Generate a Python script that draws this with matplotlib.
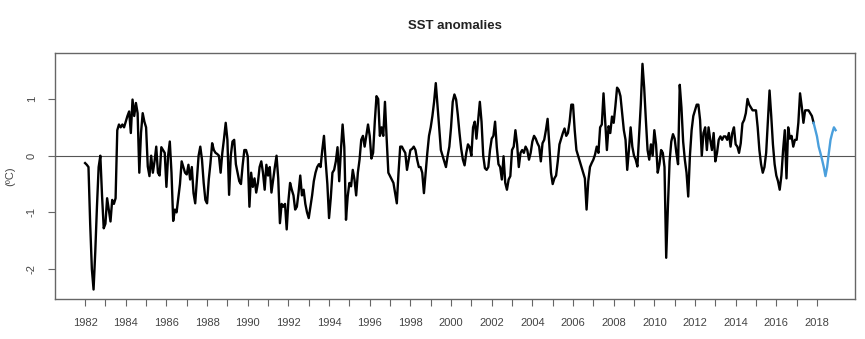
import numpy as np
import matplotlib
matplotlib.use('Agg')
import matplotlib.pyplot as plt

plt.rcParams['font.family'] = ['Liberation Sans', 'DejaVu Sans']

# monthly SST anomalies (ºC), Jan 1982 onwards, one row per year
START_YEAR = 1982
sst_obs = [
    -0.13, -0.16, -0.20, -1.20, -2.00, -2.36, -1.70, -0.90, -0.20, 0.00, -0.70, -1.28,  # 1982
    -1.20, -0.75, -0.95, -1.16, -0.78, -0.85, -0.75, 0.45, 0.55, 0.50, 0.55, 0.50,      # 1983
    0.60, 0.70, 0.78, 0.40, 0.99, 0.70, 0.93, 0.75, -0.30, 0.40, 0.75, 0.60,            # 1984
    0.50, -0.19, -0.36, 0.00, -0.30, -0.10, 0.16, -0.30, -0.35, 0.15, 0.10, 0.05,       # 1985
    -0.55, 0.00, 0.25, -0.30, -1.15, -0.95, -1.00, -0.75, -0.50, -0.10, -0.20, -0.30,   # 1986
    -0.33, -0.16, -0.42, -0.20, -0.66, -0.84, -0.42, 0.00, 0.16, -0.07, -0.48, -0.78,   # 1987
    -0.84, -0.42, -0.13, 0.22, 0.10, 0.05, 0.03, 0.00, -0.30, 0.05, 0.30, 0.58,         # 1988
    0.28, -0.69, 0.00, 0.25, 0.28, -0.15, -0.30, -0.45, -0.50, -0.17, 0.10, 0.10,       # 1989
    -0.01, -0.90, -0.30, -0.55, -0.40, -0.65, -0.48, -0.20, -0.10, -0.30, -0.60, -0.16, # 1990
    -0.35, -0.20, -0.65, -0.42, -0.20, 0.00, -0.40, -1.19, -0.85, -0.90, -0.85, -1.30,  # 1991
    -0.80, -0.48, -0.60, -0.70, -0.95, -0.90, -0.65, -0.35, -0.70, -0.60, -0.85, -1.00, # 1992
    -1.10, -0.90, -0.70, -0.45, -0.30, -0.20, -0.15, -0.20, 0.10, 0.35, -0.10, -0.50,   # 1993
    -1.10, -0.75, -0.30, -0.25, -0.10, 0.15, -0.45, 0.10, 0.55, 0.15, -1.13, -0.72,     # 1994
    -0.48, -0.54, -0.25, -0.42, -0.70, -0.30, -0.07, 0.28, 0.35, 0.16, 0.35, 0.55,      # 1995
    0.35, -0.05, 0.05, 0.60, 1.05, 1.00, 0.35, 0.50, 0.35, 0.95, 0.30, -0.30,           # 1996
    -0.36, -0.42, -0.48, -0.66, -0.84, -0.30, 0.16, 0.16, 0.10, 0.05, -0.25, -0.07,     # 1997
    0.10, 0.12, 0.16, 0.10, -0.07, -0.20, -0.20, -0.30, -0.66, -0.30, 0.05, 0.35,       # 1998
    0.50, 0.70, 0.95, 1.28, 0.90, 0.50, 0.10, 0.00, -0.10, -0.20, 0.00, 0.16,           # 1999
    0.50, 0.95, 1.08, 0.99, 0.72, 0.40, 0.12, -0.07, -0.17, 0.05, 0.20, 0.15,           # 2000
    0.00, 0.50, 0.60, 0.30, 0.62, 0.95, 0.60, 0.00, -0.22, -0.25, -0.20, 0.10,          # 2001
    0.30, 0.35, 0.60, 0.15, -0.15, -0.20, -0.42, -0.01, -0.48, -0.60, -0.42, -0.36,     # 2002
    0.10, 0.16, 0.45, 0.20, -0.20, 0.05, 0.10, 0.05, 0.16, 0.10, -0.07, 0.05,           # 2003
    0.25, 0.35, 0.30, 0.22, 0.16, -0.10, 0.22, 0.28, 0.45, 0.65, 0.20, -0.30,           # 2004
    -0.50, -0.40, -0.35, -0.10, 0.20, 0.30, 0.40, 0.48, 0.35, 0.40, 0.60, 0.90,         # 2005
    0.90, 0.45, 0.10, 0.00, -0.10, -0.20, -0.30, -0.40, -0.95, -0.45, -0.20, -0.13,     # 2006
    -0.07, 0.02, 0.16, 0.05, 0.50, 0.55, 1.10, 0.60, 0.10, 0.52, 0.40, 0.69,            # 2007
    0.58, 0.87, 1.20, 1.16, 1.05, 0.75, 0.45, 0.28, -0.25, 0.10, 0.50, 0.16,            # 2008
    0.00, -0.07, -0.19, 0.35, 0.90, 1.62, 1.20, 0.63, 0.10, -0.07, 0.20, 0.00,          # 2009
    0.45, 0.20, -0.30, -0.15, 0.10, 0.05, -0.20, -1.80, -0.90, -0.10, 0.25, 0.38,       # 2010
    0.30, 0.05, -0.15, 1.25, 0.85, 0.25, -0.07, -0.30, -0.72, 0.00, 0.45, 0.70,         # 2011
    0.80, 0.90, 0.90, 0.63, 0.00, 0.40, 0.50, 0.10, 0.50, 0.28, 0.10, 0.40,             # 2012
    -0.10, 0.05, 0.28, 0.34, 0.28, 0.34, 0.34, 0.28, 0.40, 0.16, 0.40, 0.50,            # 2013
    0.20, 0.16, 0.05, 0.22, 0.57, 0.63, 0.75, 1.00, 0.90, 0.85, 0.80, 0.80,             # 2014
    0.80, 0.50, 0.10, -0.15, -0.30, -0.20, 0.05, 0.60, 1.15, 0.70, 0.20, -0.15,         # 2015
    -0.35, -0.45, -0.60, -0.35, 0.10, 0.45, -0.40, 0.50, 0.30, 0.35, 0.16, 0.28,        # 2016
    0.28, 0.58, 1.10, 0.87, 0.58, 0.80, 0.80, 0.80, 0.75, 0.70, 0.58,                   # 2017 Jan-Nov
]
# latest period (Nov 2017 - Dec 2018), drawn in blue
sst_recent = [
    0.58, 0.46,                                                                         # 2017 Nov-Dec
    0.34, 0.16, 0.05, -0.07, -0.20, -0.36, -0.20, 0.05, 0.28, 0.40, 0.50, 0.45,         # 2018
]
year_ticks = list(range(1982, 2019))
year_labels = [str(y) if y % 2 == 0 else '' for y in year_ticks]
y_ticks = [-2, -1, 0, 1]

t_obs = START_YEAR + np.arange(len(sst_obs)) / 12.0
t_recent = t_obs[-1] + np.arange(len(sst_recent)) / 12.0

fig = plt.figure(figsize=(8.65, 3.39), dpi=100)
ax = fig.add_axes([55 / 865, 40 / 339, 800 / 865, 246 / 339])

ax.axhline(0, color='#555555', lw=0.8, zorder=1)
ax.plot(t_obs, sst_obs, color='black', lw=1.7, zorder=3)
ax.plot(t_recent, sst_recent, color='#4a9fdc', lw=1.7, zorder=3)

ax.set_xlim(1980.52, 2019.87)
ax.set_ylim(-2.527, 1.811)

ax.set_xticks(year_ticks)
ax.set_xticklabels(year_labels)
ax.set_yticks(y_ticks)
ax.set_yticklabels([str(v) for v in y_ticks], rotation=90, va='center')

for s in ax.spines.values():
    s.set_color('#666666')
    s.set_linewidth(1.0)
ax.tick_params(axis='both', colors='#666666', labelcolor='#444444', labelsize=8,
               length=5, width=0.8)
ax.tick_params(axis='x', pad=9)
ax.tick_params(axis='y', pad=8)

fig.text(455 / 865, 1 - 26 / 339, 'SST anomalies', ha='center', va='center',
         fontsize=9.5, fontweight='bold', color='#222222')
fig.text(10 / 865, 0.5 * (1 - 53 / 339 + 1 - 299 / 339), '(ºC)', rotation=90,
         ha='center', va='center', fontsize=8, color='#444444')

fig.savefig('out.png', dpi=100)
